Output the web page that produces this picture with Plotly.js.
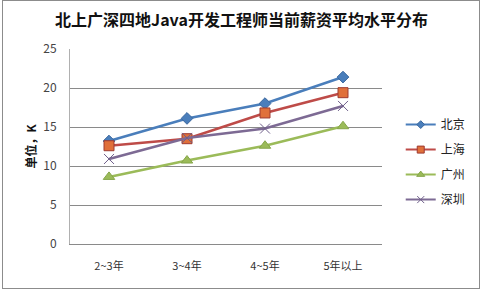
<!DOCTYPE html>
<html><head><meta charset="utf-8">
<script src="https://cdn.plot.ly/plotly-3.0.1.min.js"></script>
<style>
html,body{margin:0;padding:0;background:#fff;}
#wrap{position:relative;width:483px;height:291px;}
#chart{width:483px;height:291px;}
#frame{position:absolute;left:2px;top:0px;width:478px;height:289px;border:1px solid #8c8c8c;box-sizing:border-box;pointer-events:none;}
</style></head>
<body>
<div id="wrap"><div id="chart"></div><div id="frame"></div></div>
<script>
const categories = ["2~3年", "3~4年", "4~5年", "5年以上"];
const beijing   = [13.2, 16.1, 18.0, 21.4];
const shanghai  = [12.6, 13.5, 16.8, 19.4];
const guangzhou = [8.6, 10.7, 12.6, 15.1];
const shenzhen  = [10.9, 13.6, 14.8, 17.7];
const seriesNames = ["北京", "上海", "广州", "深圳"];
const yTicks = [0, 5, 10, 15, 20, 25];

const font = "'Noto Sans CJK SC', 'Noto Sans', sans-serif";
const styles = [
  {line:{color:'#4a7ebb', width:2.6}, marker:{symbol:'diamond', size:9, color:'#4a7ebb', line:{color:'#3a679e', width:1}}},
  {line:{color:'#be4b48', width:2.6}, marker:{symbol:'square', size:10, color:'#e0703a', line:{color:'#9e3a30', width:1}}},
  {line:{color:'#9bbb59', width:2.6}, marker:{symbol:'triangle-up', size:10, color:'#9bbb59', line:{color:'#86a64a', width:1}}},
  {line:{color:'#7d6a94', width:2.6}, marker:{symbol:'x-thin-open', size:10, color:'#6f5f8a', line:{color:'#6f5f8a', width:1}}}
];
const data = [beijing, shanghai, guangzhou, shenzhen];
const traces = [];
data.forEach((vals, i) => {
  traces.push({x: categories, y: vals, name: seriesNames[i], type:'scatter', mode:'lines+markers',
    showlegend:false, legendgroup:'g'+i, line:styles[i].line, marker:styles[i].marker});
});
// legend-only entries (smaller markers, as in the reference legend); they draw no points
data.forEach((vals, i) => {
  const m = JSON.parse(JSON.stringify(styles[i].marker));
  m.size = Math.round(m.size * 0.7);
  traces.push({x: categories, y: vals.map(() => null), name: seriesNames[i], type:'scatter', mode:'lines+markers',
    showlegend:true, legendgroup:'g'+i, line:{color:styles[i].line.color, width:2}, marker:m});
});

const layout = {
  width:483, height:291,
  margin:{l:70, r:91, t:49, b:47},
  paper_bgcolor:'#fff', plot_bgcolor:'#fff',
  font:{family:font, color:'#333', size:11},
  title:{text:'<b>北上广深四地Java开发工程师当前薪资平均水平分布</b>', x:0.5, xanchor:'center', y:0.93, yanchor:'middle', font:{family:font, size:16, color:'#111'}},
  xaxis:{type:'category', tickvals:categories, ticktext:categories, showgrid:false, zeroline:false,
         showline:true, linecolor:'#8a8a8a', linewidth:1, ticks:'', ticklabelstandoff:12,
         tickfont:{size:11, color:'#333'}, range:[-0.5, 3.5]},
  yaxis:{range:[0,25], tickvals:yTicks, showgrid:true, gridcolor:'#8a8a8a', gridwidth:1, zeroline:false,
         showline:true, linecolor:'#b0b0b0', ticks:'', ticklabelstandoff:10, tickfont:{size:12, color:'#444'},
         title:{text:'<b>单位，K</b>', font:{family:font, size:12, color:'#111'}, standoff:4}},
  showlegend:true,
  legend:{x:1.06, xanchor:'left', y:0.42, yanchor:'middle', traceorder:'grouped', tracegroupgap:6,
          font:{size:12, color:'#222'}, bgcolor:'rgba(0,0,0,0)', itemwidth:30}
};
Plotly.newPlot('chart', traces, layout, {displayModeBar:false, staticPlot:true});
</script>
</body></html>
